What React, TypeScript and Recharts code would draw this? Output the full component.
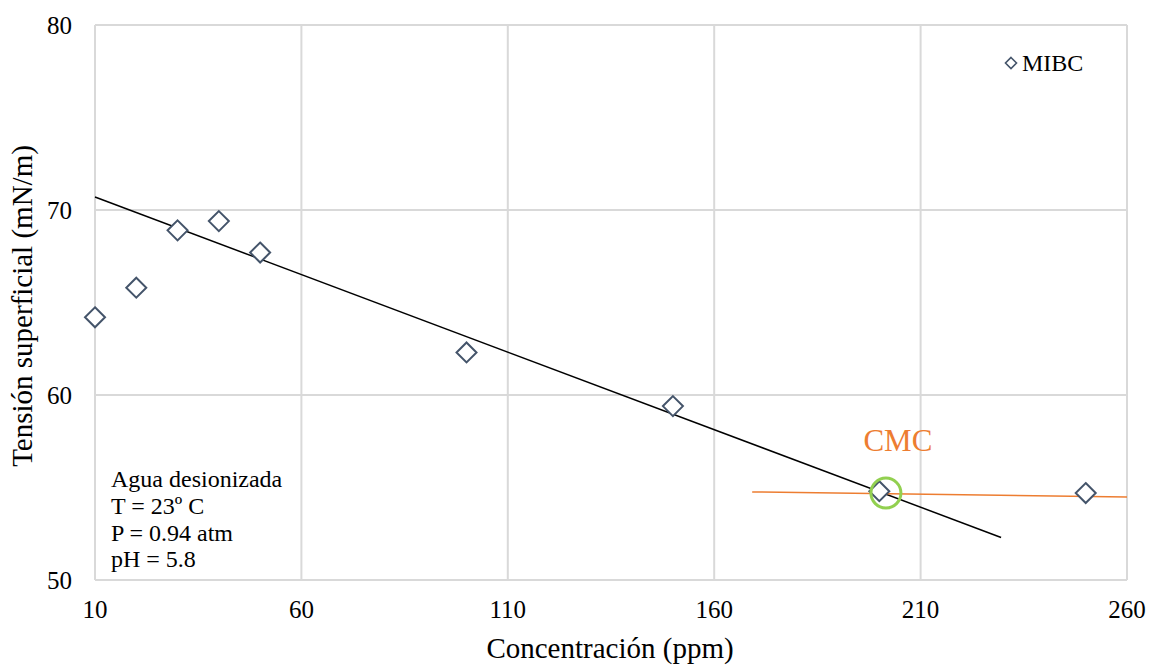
import React from "react";
import {
  ScatterChart,
  Scatter,
  XAxis,
  YAxis,
  CartesianGrid,
  ReferenceDot,
  Legend,
} from "recharts";

const xTicks = [10, 60, 110, 160, 210, 260];
const yTicks = [50, 60, 70, 80];

// MIBC measurements (ppm, mN/m)
const concentration = [10, 20, 30, 40, 50, 100, 150, 200, 250];
const tension = [64.2, 65.8, 68.9, 69.4, 67.7, 62.3, 59.4, 54.8, 54.7];

// fitted lines
const trendX = [10, 229.5];
const trendY = [70.7, 52.3];
const plateauX = [169.2, 260];
const plateauY = [54.76, 54.49];

const cmcPoint = { x: 201.6, y: 54.7 };
const cmcLabelPos = { x: 204.5, y: 57.55 };

const conditions = ["Agua desionizada", "T = 23º C", "P = 0.94 atm", "pH = 5.8"];

const mibcData = concentration.map((x, i) => ({ x, y: tension[i] }));
const trendData = trendX.map((x, i) => ({ x, y: trendY[i] }));
const plateauData = plateauX.map((x, i) => ({ x, y: plateauY[i] }));

const FONT = "Liberation Serif, DejaVu Serif, serif";
const GRID = "#d9d9d9";
const MARKER = "#44546A";
const ORANGE = "#ED7D31";
const GREEN = "#92D050";

const Diamond = (props: any) => {
  const { cx, cy } = props;
  const s = 10;
  return (
    <path
      d={`M${cx},${cy - s} L${cx + s},${cy} L${cx},${cy + s} L${cx - s},${cy} Z`}
      fill="#fff"
      stroke={MARKER}
      strokeWidth={2}
    />
  );
};

const NoShape = () => <g />;

const LegendBox = () => (
  <div style={{ display: "flex", alignItems: "center", height: 24, fontFamily: FONT }}>
    <svg width={14} height={14} style={{ marginRight: 4 }}>
      <path d="M7,1.5 L12.5,7 L7,12.5 L1.5,7 Z" fill="#fff" stroke={MARKER} strokeWidth={1.6} />
    </svg>
    <span style={{ fontSize: 24, color: "#000" }}>MIBC</span>
  </div>
);

export default function App() {
  return (
    <div
      style={{
        position: "absolute",
        left: 0,
        top: 0,
        width: 1149,
        height: 667,
        background: "#fff",
        fontFamily: FONT,
      }}
    >
      <ScatterChart
        width={1149}
        height={667}
        margin={{ top: 25, right: 22, bottom: 0, left: 0 }}
        style={{ fontFamily: FONT }}
      >
        <CartesianGrid stroke={GRID} strokeWidth={2} />
        <XAxis
          type="number"
          dataKey="x"
          domain={[10, 260]}
          ticks={xTicks}
          height={87}
          axisLine={{ stroke: GRID, strokeWidth: 2 }}
          tickLine={false}
          tickSize={0}
          tickMargin={20}
          tick={{ fill: "#000", fontSize: 25, fontFamily: FONT }}
          label={{
            content: () => (
              <text x={610} y={658} textAnchor="middle" fontSize={29} fill="#000" fontFamily={FONT}>
                Concentración (ppm)
              </text>
            ),
          }}
        />
        <YAxis
          type="number"
          dataKey="y"
          domain={[50, 80]}
          ticks={yTicks}
          width={95}
          axisLine={{ stroke: GRID, strokeWidth: 2 }}
          tickLine={false}
          tickSize={0}
          tickMargin={23}
          tick={{ fill: "#000", fontSize: 25, fontFamily: FONT }}
          label={{
            content: () => (
              <text
                x={22}
                y={306}
                transform="rotate(-90 22 306)"
                textAnchor="middle"
                dominantBaseline="central"
                fontSize={29}
                fill="#000"
                fontFamily={FONT}
              >
                Tensión superficial (mN/m)
              </text>
            ),
          }}
        />
        <Legend
          layout="horizontal"
          verticalAlign="middle"
          align="center"
          content={() => <LegendBox />}
          wrapperStyle={{ position: "absolute", left: 1004, top: 51, width: "auto" }}
        />
        <Scatter
          name="trend"
          data={trendData}
          line={{ stroke: "#000", strokeWidth: 1.5 }}
          shape={NoShape}
          legendType="none"
          isAnimationActive={false}
        />
        <Scatter
          name="plateau"
          data={plateauData}
          line={{ stroke: ORANGE, strokeWidth: 1.5 }}
          shape={NoShape}
          legendType="none"
          isAnimationActive={false}
        />
        <Scatter name="MIBC" data={mibcData} shape={Diamond} isAnimationActive={false} />
        <ReferenceDot
          x={cmcPoint.x}
          y={cmcPoint.y}
          r={15}
          fill="none"
          stroke={GREEN}
          strokeWidth={3}
        />
        <ReferenceDot
          x={cmcLabelPos.x}
          y={cmcLabelPos.y}
          r={0}
          fill="none"
          stroke="none"
          label={{ value: "CMC", position: "center", fill: ORANGE, fontSize: 31, fontFamily: FONT }}
        />
        <ReferenceDot
          x={10}
          y={50}
          r={0}
          fill="none"
          stroke="none"
          label={{
            content: (p: any) => {
              const vb = p.viewBox || {};
              const x0 = (vb.x ?? 95) + 16;
              const y0 = (vb.y ?? 580) - 93;
              return (
                <text fontSize={24} fill="#000" fontFamily={FONT}>
                  {conditions.map((c, i) => (
                    <tspan key={c} x={x0} y={y0 + i * 26.8}>
                      {c}
                    </tspan>
                  ))}
                </text>
              );
            },
          }}
        />
      </ScatterChart>
    </div>
  );
}
